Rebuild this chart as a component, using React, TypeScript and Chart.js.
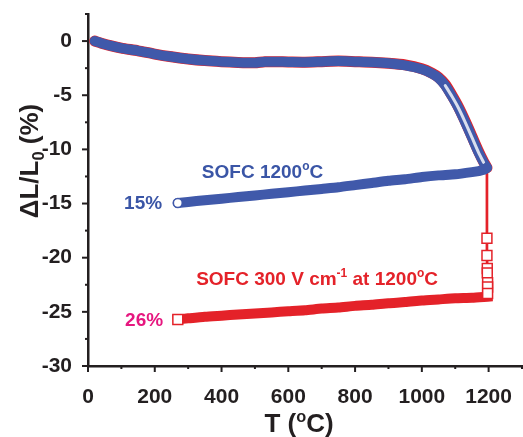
import React, { useEffect, useRef } from 'react';
import { Chart, registerables } from 'chart.js';
Chart.register(...registerables);

// ---- data ----
const heatT = [20, 40, 70, 100, 150, 200, 250, 300, 350, 400, 450, 500, 530, 600, 650, 700, 750, 800, 850, 900, 950, 1000, 1030, 1050, 1070, 1090, 1110, 1130, 1150, 1170, 1185, 1195];
const heatBlue = [0, -0.2, -0.45, -0.65, -0.9, -1.2, -1.45, -1.65, -1.8, -1.9, -1.97, -2.0, -1.9, -1.93, -1.95, -1.9, -1.85, -1.9, -1.95, -2.05, -2.25, -2.6, -3.0, -3.4, -4.1, -5.1, -6.2, -7.5, -8.9, -10.3, -11.2, -11.7];
const heatRed = [0, -0.2, -0.45, -0.65, -0.9, -1.2, -1.45, -1.65, -1.8, -1.9, -1.97, -2.0, -1.9, -1.93, -1.95, -1.9, -1.85, -1.9, -1.95, -2.05, -2.2, -2.55, -2.95, -3.35, -4.0, -5.0, -6.1, -7.4, -8.8, -10.2, -11.15, -11.7];

const coolBlueT = [1195, 1185, 1170, 1150, 1100, 1050, 1000, 950, 900, 850, 800, 750, 700, 650, 600, 550, 500, 450, 400, 350, 300, 269];
const coolBlue = [-11.7, -11.9, -12.0, -12.1, -12.3, -12.4, -12.55, -12.75, -12.9, -13.1, -13.3, -13.5, -13.65, -13.8, -13.95, -14.1, -14.25, -14.4, -14.55, -14.7, -14.85, -14.95];

const dropRedT = [1195, 1195, 1195, 1196, 1196, 1197, 1197, 1197];
const dropRed = [-11.7, -18.2, -19.8, -21.0, -21.4, -22.3, -22.7, -23.3];

const coolRedT = [1197, 1150, 1100, 1050, 1000, 950, 900, 850, 800, 750, 700, 650, 600, 550, 500, 450, 400, 350, 300, 269];
const coolRed = [-23.6, -23.7, -23.75, -23.85, -23.95, -24.1, -24.2, -24.35, -24.45, -24.6, -24.7, -24.85, -24.95, -25.05, -25.15, -25.25, -25.35, -25.45, -25.6, -25.7];

const xTickLabels = [0, 200, 400, 600, 800, 1000, 1200];
const yTickLabels = [0, -5, -10, -15, -20, -25, -30];

const BLUE = '#3a55a6';
const BLUE_BAND = '#4059aa';
const RED = '#e42229';
const PINK = '#e6177f';
const AXIS = '#231f20';
const FAM = '"Liberation Sans", Arial, Helvetica, sans-serif';

type Part = [string, number];

function drawRich(ctx: CanvasRenderingContext2D, parts: Part[], x: number, y: number, size: number, color: string, align: string) {
  const items = parts.map(([t, m]) => {
    const s = m === 0 ? size : size * 0.63;
    ctx.font = `bold ${s}px ${FAM}`;
    return { t, m, s, w: ctx.measureText(t).width };
  });
  const total = items.reduce((a, b) => a + b.w, 0);
  let cx = align === 'center' ? x - total / 2 : align === 'right' ? x - total : x;
  ctx.fillStyle = color;
  ctx.textBaseline = 'alphabetic';
  ctx.textAlign = 'left';
  for (const it of items) {
    ctx.font = `bold ${it.s}px ${FAM}`;
    const dy = it.m === 1 ? -size * 0.4 : it.m === -1 ? size * 0.22 : 0;
    ctx.fillText(it.t, cx, y + dy);
    cx += it.w;
  }
}

const pts = (xs: number[], ys: number[]) => xs.map((x, i) => ({ x, y: ys[i] }));

export default function App() {
  const ref = useRef<HTMLCanvasElement | null>(null);
  useEffect(() => {
    if (!ref.current) return;
    const overlay = {
      id: 'overlay',
      afterDraw(chart: any) {
        const ctx = chart.ctx as CanvasRenderingContext2D;
        const xs = chart.scales.x;
        const ys = chart.scales.y;
        const { left, bottom } = chart.chartArea;
        ctx.save();
        ctx.strokeStyle = AXIS;
        ctx.lineWidth = 2;
        for (let v = 0; v <= 1300; v += 100) {
          const px = xs.getPixelForValue(v);
          const len = v % 200 === 0 ? 6 : 3;
          ctx.beginPath();
          ctx.moveTo(px, bottom);
          ctx.lineTo(px, bottom + len);
          ctx.stroke();
        }
        for (let v = -30; v <= 2.5; v += 2.5) {
          const py = ys.getPixelForValue(v);
          const len = v % 5 === 0 ? 6 : 3;
          ctx.beginPath();
          ctx.moveTo(left, py);
          ctx.lineTo(left - len, py);
          ctx.stroke();
        }
        // annotations
        drawRich(ctx, [['15%', 0]], xs.getPixelForValue(222), ys.getPixelForValue(-15.5), 19, BLUE, 'right');
        drawRich(ctx, [['SOFC 1200', 0], ['o', 1], ['C', 0]], xs.getPixelForValue(341), ys.getPixelForValue(-12.64), 19, BLUE, 'left');
        drawRich(ctx, [['SOFC 300 V cm', 0], ['-1', 1], [' at 1200', 0], ['o', 1], ['C', 0]], xs.getPixelForValue(324), ys.getPixelForValue(-22.5), 19, RED, 'left');
        drawRich(ctx, [['26%', 0]], xs.getPixelForValue(225), ys.getPixelForValue(-26.3), 19, PINK, 'right');
        // axis titles
        drawRich(ctx, [['T (', 0], ['o', 1], ['C)', 0]], 299, 432, 26, AXIS, 'center');
        ctx.translate(38, 161);
        ctx.rotate(-Math.PI / 2);
        drawRich(ctx, [['\u0394L/L', 0], ['0', -1], [' (%)', 0]], 0, 0, 26, AXIS, 'center');
        ctx.restore();
      },
    };
    const lastOnly = (r: number) => (c: any) => (c.dataIndex === c.dataset.data.length - 1 ? r : 0);
    const chart = new Chart(ref.current, {
      type: 'line',
      data: {
        datasets: [
          {
            label: 'blue cooling',
            data: pts(coolBlueT, coolBlue),
            borderColor: BLUE_BAND,
            borderWidth: 10,
            borderCapStyle: 'round',
            borderJoinStyle: 'round',
            tension: 0.2,
            pointRadius: lastOnly(4.5),
            pointStyle: 'circle',
            pointBackgroundColor: '#ffffff',
            pointBorderColor: BLUE_BAND,
            pointBorderWidth: 1.6,
            order: 1,
          } as any,
          {
            label: 'blue heating inner',
            data: pts(heatT, heatBlue).filter((p) => p.x >= 1060 && p.x <= 1185),
            borderColor: 'rgba(255,255,255,0.8)',
            borderWidth: 3,
            borderCapStyle: 'round',
            tension: 0.2,
            pointRadius: 0,
            order: 2,
          } as any,
          {
            label: 'SOFC 1200°C',
            data: pts(heatT, heatBlue),
            borderColor: BLUE_BAND,
            borderWidth: 10,
            borderCapStyle: 'round',
            borderJoinStyle: 'round',
            tension: 0.2,
            pointRadius: 0,
            order: 3,
          } as any,
          {
            label: 'red drop',
            data: pts(dropRedT, dropRed),
            borderColor: RED,
            borderWidth: 2.7,
            tension: 0,
            pointStyle: 'rect',
            pointRadius: (c: any) => (c.dataIndex === 0 ? 0 : 7),
            pointBackgroundColor: '#ffffff',
            pointBorderColor: RED,
            pointBorderWidth: 1.5,
            order: 4,
          } as any,
          {
            label: 'red cooling',
            data: pts(coolRedT, coolRed),
            borderColor: RED,
            borderWidth: 10,
            borderCapStyle: 'square',
            tension: 0.2,
            pointStyle: 'rect',
            pointRadius: lastOnly(7),
            pointBackgroundColor: '#ffffff',
            pointBorderColor: RED,
            pointBorderWidth: 1.5,
            order: 5,
          } as any,
          {
            label: 'SOFC 300 V cm-1 heating',
            data: pts(heatT, heatRed),
            borderColor: RED,
            borderWidth: 11,
            borderCapStyle: 'round',
            tension: 0.2,
            pointRadius: 0,
            order: 6,
          } as any,
        ],
      },
      options: {
        animation: false,
        responsive: true,
        maintainAspectRatio: false,
        events: [],
        layout: { autoPadding: false, padding: { top: 14, right: 1, left: 0, bottom: 0 } },
        plugins: { legend: { display: false }, tooltip: { enabled: false }, title: { display: false } },
        scales: {
          x: {
            type: 'linear',
            min: 0,
            max: 1300,
            afterFit: (s: any) => { s.height = 71; s.paddingLeft = 0; s.paddingRight = 0; },
            grid: { display: false },
            border: { display: true, color: AXIS, width: 2.5 },
            ticks: {
              stepSize: 100,
              autoSkip: false,
              maxRotation: 0,
              padding: 11,
              color: AXIS,
              font: { family: FAM, size: 21, weight: 'bold' },
              callback: (v: any) => (xTickLabels.includes(Number(v)) ? String(v) : ''),
            },
          },
          y: {
            type: 'linear',
            min: -30,
            max: 2.5,
            afterFit: (s: any) => { s.width = 88; s.paddingTop = 0; s.paddingBottom = 0; },
            grid: { display: false },
            border: { display: true, color: AXIS, width: 2.5 },
            ticks: {
              stepSize: 5,
              autoSkip: false,
              padding: 8,
              color: AXIS,
              font: { family: FAM, size: 21, weight: 'bold' },
              callback: (v: any) => (yTickLabels.includes(Number(v)) ? String(v) : ''),
            },
          },
        },
      } as any,
      plugins: [overlay],
    });
    return () => chart.destroy();
  }, []);
  return (
    <div style={{ position: 'fixed', left: 0, top: 0, width: 523, height: 437, background: '#fff' }}>
      <canvas ref={ref} />
    </div>
  );
}
